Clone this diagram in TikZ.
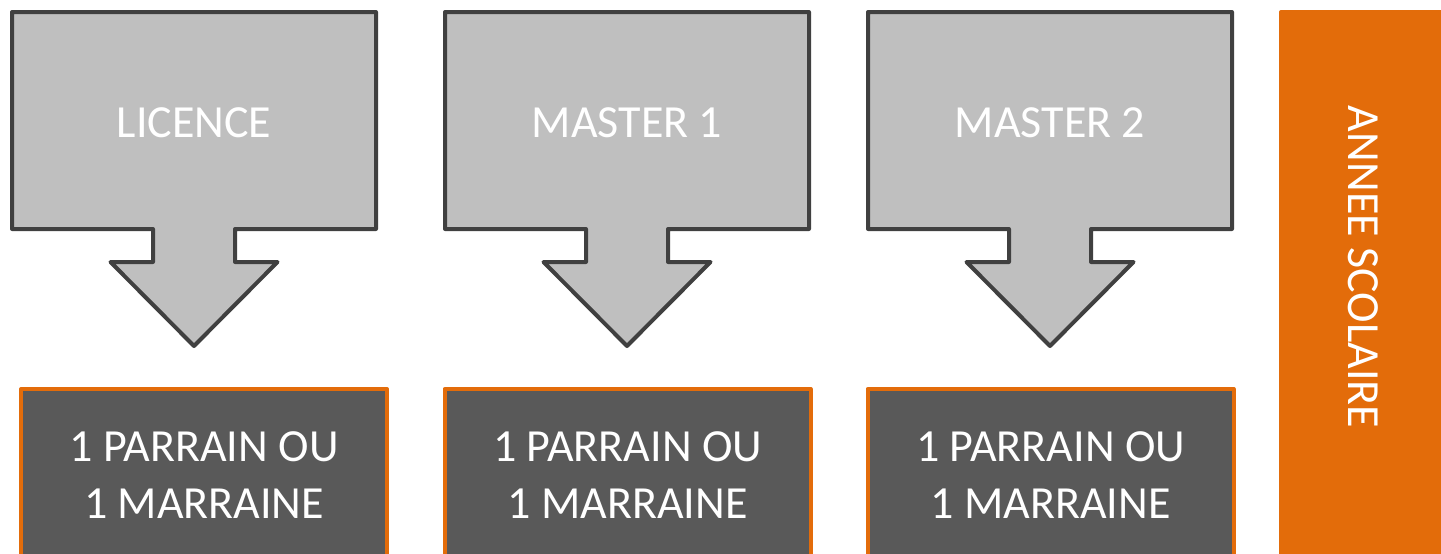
\documentclass[tikz,border=0pt]{standalone}
\usepackage{fontspec}
\setmainfont{Carlito}
\definecolor{boxgrey}{HTML}{BFBFBF}
\definecolor{edgegrey}{HTML}{404040}
\definecolor{darkbox}{HTML}{595959}
\definecolor{orangec}{HTML}{E36C0A}
\tikzset{
  callout/.style={fill=boxgrey, draw=edgegrey, line width=4pt, line join=round},
  sponsor/.style={fill=darkbox, draw=orangec, line width=4pt, line join=round},
  toptext/.style={text=white, font=\fontsize{46}{54}\selectfont, anchor=base, inner sep=0pt},
  bottext/.style={text=white, font=\fontsize{46}{57}\selectfont, align=center, anchor=base, inner sep=0pt},
}
\begin{document}
\begin{tikzpicture}[x=1pt,y=-1pt]
\useasboundingbox (0,0) rectangle (1441,554);
\clip (0,0) rectangle (1441,554);
\fill[white] (0,0) rectangle (1441,554);
% callouts
\foreach \cx/\nm/\txt in {194/lic/LICENCE, 627/mone/MASTER 1, 1050/mtwo/MASTER 2}{
  \draw[callout] (\cx-182,12) -- (\cx+182,12) -- (\cx+182,229) -- (\cx+41,229) -- (\cx+41,262)
     -- (\cx+83.5,262) -- (\cx,346) -- (\cx-83.5,262) -- (\cx-41,262) -- (\cx-41,229)
     -- (\cx-182,229) -- cycle;
  \node[toptext] (\nm) at (\cx,137) {\txt};
}
% sponsor boxes
\foreach \cx/\nm in {204/sa, 627.5/sb, 1050.5/sc}{
  \draw[sponsor] (\cx-183,389) rectangle (\cx+183,580);
  \node[bottext] (\nm) at (\cx,518) {1 PARRAIN OU\\1 MARRAINE};
}
% year bar
\fill[orangec, rounded corners=2pt] (1279,10) rectangle (1460,580);
\node[text=white, font=\fontsize{46}{54}\selectfont, rotate=-90, inner sep=0pt, anchor=base] (annee) at (1348,267) {ANNEE SCOLAIRE};
\end{tikzpicture}
\end{document}
